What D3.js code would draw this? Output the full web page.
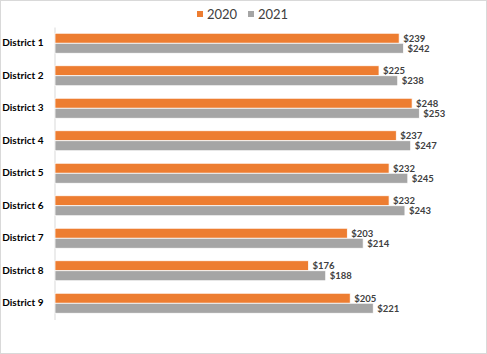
<!DOCTYPE html>
<html>
<head>
<meta charset="utf-8">
<script src="https://cdn.jsdelivr.net/npm/d3@7"></script>
<style>
  body { margin: 0; background: #fff; }
  svg { display: block; }
</style>
</head>
<body>
<svg id="chart"></svg>
<script>
// values
const districts = ["District 1", "District 2", "District 3", "District 4", "District 5",
  "District 6", "District 7", "District 8", "District 9"];
const years = ["2020", "2021"];
const values2020 = [239, 225, 248, 237, 232, 232, 203, 176, 205];
const values2021 = [242, 238, 253, 247, 245, 243, 214, 188, 221];
const colors = ["#ed7d31", "#a5a5a5"];

const width = 487, height = 354;
const margin = { top: 27, right: 0, bottom: 34.5, left: 55 };

const rows = districts.map((d, i) => ({ name: d, vals: [values2020[i], values2021[i]] }));

const svg = d3.select("#chart").attr("width", width).attr("height", height);

// outer frame
svg.append("rect")
  .attr("x", 0.5).attr("y", 0.5)
  .attr("width", width - 1).attr("height", height - 1)
  .attr("fill", "#fff").attr("stroke", "#d9d9d9");

const x = d3.scaleLinear().domain([0, 300]).range([margin.left, margin.left + 432]);

const y = d3.scaleBand()
  .domain(districts)
  .range([margin.top, height - margin.bottom])
  .paddingInner(0.385)
  .paddingOuter(0.1925);

const ySub = d3.scaleBand().domain(years).range([0, y.bandwidth()]);

// category axis
const yAxis = d3.axisLeft(y).tickSize(0).tickPadding(11);
const yAxisG = svg.append("g")
  .attr("transform", `translate(${margin.left - 0.5},0)`)
  .call(yAxis);
yAxisG.select(".domain").attr("stroke", "#d9d9d9");
yAxisG.selectAll("text")
  .style("font-family", "Lato, 'Open Sans', sans-serif")
  .style("font-weight", "bold")
  .style("font-size", "10px")
  .attr("fill", "#000");

const groups = svg.selectAll(".grp")
  .data(rows)
  .join("g")
  .attr("class", "grp")
  .attr("transform", d => `translate(0,${y(d.name)})`);

groups.selectAll("rect")
  .data(d => d.vals.map((v, k) => ({ year: years[k], v, k })))
  .join("rect")
  .attr("x", x(0))
  .attr("y", d => ySub(d.year))
  .attr("width", d => x(d.v) - x(0))
  .attr("height", ySub.bandwidth())
  .attr("fill", d => colors[d.k])
  .attr("stroke", "#fff")
  .attr("stroke-width", 0.75);

groups.selectAll("text")
  .data(d => d.vals.map((v, k) => ({ year: years[k], v, k })))
  .join("text")
  .attr("x", d => x(d.v) + 4)
  .attr("y", d => ySub(d.year) + ySub.bandwidth() / 2)
  .attr("dy", "0.35em")
  .style("font-family", "Lato, 'Open Sans', sans-serif")
  .style("font-size", "9.5px")
  .style("font-weight", "bold")
  .attr("fill", "#404040")
  .text(d => "$" + d.v);

// legend
const legend = svg.append("g").attr("transform", "translate(197,9)");
const legItems = legend.selectAll("g")
  .data(years)
  .join("g")
  .attr("transform", (d, i) => `translate(${i * 51},0)`);
legItems.append("rect")
  .attr("width", 6).attr("height", 6).attr("y", 2)
  .attr("fill", (d, i) => colors[i]);
legItems.append("text")
  .attr("x", 10).attr("y", 5).attr("dy", "0.35em")
  .style("font-family", "Lato, 'Open Sans', sans-serif")
  .style("font-size", "13px")
  .attr("fill", "#404040")
  .text(d => d);
</script>
</body>
</html>
